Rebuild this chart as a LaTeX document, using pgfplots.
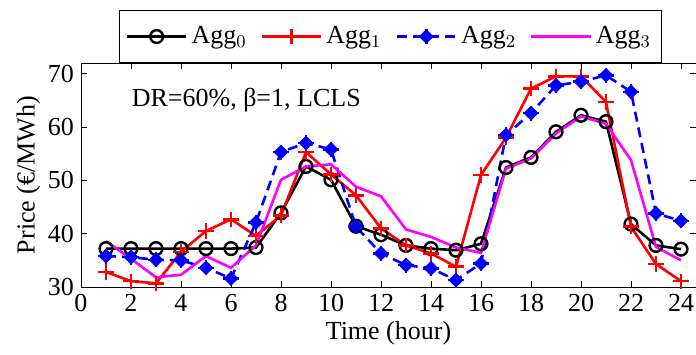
\documentclass[border=0pt]{standalone}
\usepackage{pgfplots}
\pgfplotsset{compat=1.18}
\usepackage{fontspec}
\setmainfont{Liberation Serif}
\definecolor{mag}{RGB}{255,0,255}
\definecolor{rd}{RGB}{255,0,0}
\definecolor{bl}{RGB}{0,0,255}
\pgfdeclareplotmark{dstar}{%
  \pgfpathmoveto{\pgfqpoint{0pt}{\pgfplotmarksize}}%
  \pgfpathlineto{\pgfqpoint{\pgfplotmarksize}{0pt}}%
  \pgfpathlineto{\pgfqpoint{0pt}{-\pgfplotmarksize}}%
  \pgfpathlineto{\pgfqpoint{-\pgfplotmarksize}{0pt}}%
  \pgfpathclose
  \pgfusepathqfillstroke
  \pgfpathmoveto{\pgfqpoint{0pt}{1.35\pgfplotmarksize}}%
  \pgfpathlineto{\pgfqpoint{0pt}{-1.35\pgfplotmarksize}}%
  \pgfpathmoveto{\pgfqpoint{1.35\pgfplotmarksize}{0pt}}%
  \pgfpathlineto{\pgfqpoint{-1.35\pgfplotmarksize}{0pt}}%
  \pgfusepathqstroke
}
\begin{document}
\begin{tikzpicture}
\begin{axis}[
  scale only axis,
  width=307.5pt, height=112pt,
  xmin=0, xmax=24.6, ymin=30, ymax=72,
  xtick={0,2,...,24}, ytick={30,40,...,70},
  font=\fontsize{13}{15}\selectfont,
  /pgf/number format/assume math mode=true,
  tick style={black, thin},
  major tick length=3pt,
  xlabel={Time (hour)}, ylabel={Price (€/MWh)},
  xlabel style={yshift=2pt},
  ylabel style={yshift=-3pt},
  legend columns=4,
  legend style={at={(0.503,1)}, anchor=south, draw=black, thin,
    font=\fontsize{13}{15}\selectfont,
    /tikz/every even column/.append style={column sep=5pt},
    inner ysep=6pt, inner xsep=3pt},
  legend image code/.code={\draw[mark repeat=2,mark phase=2] plot coordinates {(0cm,0cm) (0.52cm,0cm) (1.04cm,0cm)};},
]
\addplot[black, line width=1.3pt, mark=o, mark size=3.2pt, mark options={solid, line width=1.2pt}] coordinates {
(1,37.2)(2,37.2)(3,37.2)(4,37.2)(5,37.2)(6,37.2)(7,37.4)(8,43.9)(9,52.6)(10,50.1)(11,41.4)(12,39.8)
(13,37.8)(14,37.2)(15,36.9)(16,38.1)(17,52.4)(18,54.3)(19,59.1)(20,62.2)(21,61.0)(22,41.8)(23,37.8)(24,37.1)};
\addlegendentry{Agg$_0$}
\addplot[rd, line width=1.3pt, mark=+, mark size=3.8pt, mark options={solid, line width=1.3pt}] coordinates {
(1,32.8)(2,31.1)(3,30.7)(4,36.6)(5,40.5)(6,42.7)(7,39.6)(8,43.4)(9,55.3)(10,51.1)(11,47.2)(12,41.0)
(13,37.8)(14,36.3)(15,33.8)(16,51.0)(17,58.0)(18,67.2)(19,69.5)(20,69.5)(21,64.7)(22,41.3)(23,34.3)(24,31.1)};
\addlegendentry{Agg$_1$}
\addplot[bl, line width=1.3pt, dash pattern=on 5pt off 3pt, mark=dstar, mark size=2.8pt, mark options={solid, fill=bl, line width=1.3pt}] coordinates {
(1,35.8)(2,35.6)(3,35.1)(4,35.0)(5,33.6)(6,31.6)(7,42.1)(8,55.3)(9,57.0)(10,55.8)(11,41.3)(12,36.3)
(13,34.1)(14,33.5)(15,31.3)(16,34.4)(17,58.5)(18,62.6)(19,67.8)(20,68.5)(21,69.7)(22,66.6)(23,43.8)(24,42.4)};
\addlegendentry{Agg$_2$}
\addplot[mag, line width=1.3pt] coordinates {
(1,38.6)(2,35.3)(3,31.8)(4,32.3)(5,35.8)(6,33.6)(7,37.8)(8,50.1)(9,52.6)(10,53.0)(11,48.8)(12,47.0)
(13,40.8)(14,39.4)(15,37.4)(16,36.4)(17,52.2)(18,54.1)(19,58.8)(20,62.0)(21,60.6)(22,53.8)(23,37.5)(24,35.0)};
\addlegendentry{Agg$_3$}
\node[anchor=west, font=\fontsize{13}{15}\selectfont] at (axis cs:1.75,65) {DR=60\%, β=1, LCLS};
\end{axis}
\pgfresetboundingbox
\path[use as bounding box] (current axis.south west) ++(-40.5pt,-33.5pt) rectangle ++(348pt,177pt);
\end{tikzpicture}
\end{document}
